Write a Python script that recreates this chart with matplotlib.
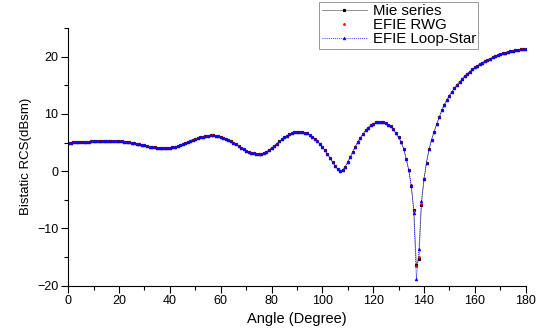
import numpy as np
import matplotlib
matplotlib.use("Agg")
import matplotlib.pyplot as plt
from matplotlib.ticker import MultipleLocator

plt.rcParams['font.family'] = ['Liberation Sans', 'DejaVu Sans']

# angles in degrees, one sample per degree
angle = np.arange(0, 181)

mie = [
    5.0, 5.0, 5.05, 5.05, 5.1, 5.1, 5.1, 5.15, 5.15, 5.2,
    5.2, 5.2, 5.25, 5.25, 5.3, 5.3, 5.3, 5.3, 5.3, 5.25,
    5.25, 5.2, 5.15, 5.1, 5.05, 5.0, 4.9, 4.8, 4.7, 4.6,
    4.5, 4.4, 4.3, 4.2, 4.15, 4.1, 4.05, 4.0, 4.0, 4.0,
    4.05, 4.15, 4.25, 4.4, 4.55, 4.7, 4.9, 5.1, 5.3, 5.5,
    5.65, 5.8, 5.95, 6.05, 6.15, 6.2, 6.25, 6.25, 6.2, 6.1,
    6.0, 5.85, 5.65, 5.45, 5.2, 4.95, 4.7, 4.4, 4.1, 3.85,
    3.6, 3.4, 3.2, 3.1, 3.0, 3.0, 3.05, 3.2, 3.4, 3.7,
    4.05, 4.4, 4.8, 5.2, 5.55, 5.9, 6.2, 6.45, 6.65, 6.8,
    6.9, 6.9, 6.85, 6.75, 6.6, 6.35, 6.05, 5.7, 5.3, 4.8,
    4.25, 3.65, 3.0, 2.3, 1.6, 0.95, 0.35, 0.05, 0.2, 0.8,
    1.6, 2.5, 3.4, 4.3, 5.1, 5.85, 6.5, 7.1, 7.6, 8.0,
    8.3, 8.5, 8.6, 8.6, 8.5, 8.35, 8.1, 7.8, 7.3, 6.6,
    5.9, 5.1, 3.9, 2.2, 0.2, -2.6, -6.7, -16.3, -15.4, -5.9,
    -1.4, 1.5, 3.8, 5.5, 6.9, 8.2, 9.4, 10.6, 11.6, 12.4,
    13.2, 13.9, 14.5, 15.1, 15.6, 16.1, 16.6, 17.0, 17.4, 17.8,
    18.1, 18.4, 18.7, 18.95, 19.2, 19.45, 19.65, 19.85, 20.05, 20.25,
    20.4, 20.55, 20.7, 20.85, 20.95, 21.05, 21.15, 21.2, 21.25, 21.3,
    21.3,
]

rwg = list(mie)
rwg[135:140] = [-2.5, -7.0, -16.5, -15.0, -5.8]

loop_star = list(mie)
loop_star[135:140] = [-2.4, -7.3, -18.8, -13.6, -5.2]

fig = plt.figure(figsize=(5.48, 3.33), dpi=100)
ax = fig.add_axes([0.1246, 0.142, 0.8345, 0.774])

ax.plot(angle, mie, color="#666666", lw=0.5, marker="s", ms=1.3,
        mfc="black", mec="black", label="Mie series")
ax.plot(angle, rwg, ls="none", marker="o", ms=1.0, mfc="red", mec="red",
        label="EFIE RWG")
ax.plot(angle, loop_star, color="blue", lw=0.5, ls=(0, (1.5, 1.5)),
        marker="^", ms=2.0, mfc="blue", mec="blue", mew=0.4,
        label="EFIE Loop-Star")

ax.set_xlim(0, 180)
ax.set_ylim(-20, 25)
ax.xaxis.set_major_locator(MultipleLocator(20))
ax.xaxis.set_minor_locator(MultipleLocator(10))
ax.yaxis.set_major_locator(MultipleLocator(10))
ax.yaxis.set_minor_locator(MultipleLocator(5))
ax.set_yticks([-20, -10, 0, 10, 20])

for side in ("top", "right"):
    ax.spines[side].set_visible(False)
ax.spines["left"].set_linewidth(0.8)
ax.spines["bottom"].set_linewidth(0.8)
ax.tick_params(which="major", direction="out", length=5, width=0.8,
               labelsize=9, pad=2)
ax.tick_params(which="minor", direction="out", length=3, width=0.8)

ax.set_xlabel("Angle (Degree)", fontsize=10.5, labelpad=3)
ax.set_ylabel("Bistatic RCS(dBsm)", fontsize=9.5, labelpad=4)

leg = ax.legend(loc="upper left", bbox_to_anchor=(0.549, 1.10),
                fontsize=10.8, frameon=True, fancybox=False, borderpad=0.15,
                labelspacing=0.0, handlelength=3.0, handletextpad=0.4,
                borderaxespad=0, framealpha=1)
leg.get_frame().set_edgecolor("#888888")
leg.get_frame().set_linewidth(0.6)

fig.savefig("out.png", dpi=100)
